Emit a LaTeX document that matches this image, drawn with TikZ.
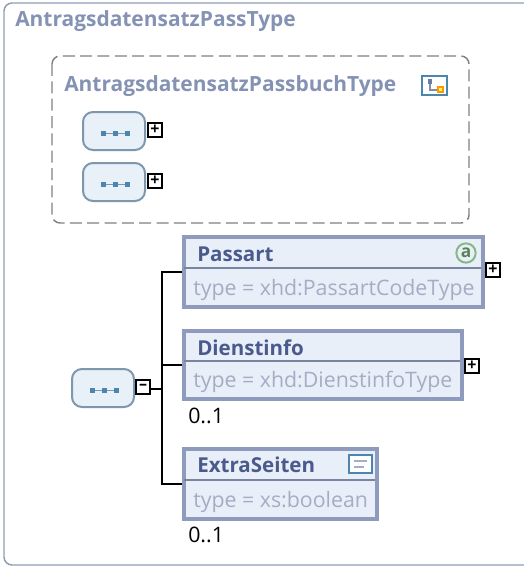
\documentclass[tikz,border=0pt]{standalone}
\usepackage{fontspec}
\setmainfont{Open Sans}
\usepackage{tikz}

\definecolor{framecol}{RGB}{141,157,181}
\definecolor{titlecol}{RGB}{132,146,180}
\definecolor{elemcol}{RGB}{142,155,189}
\definecolor{elemfill}{RGB}{233,239,249}
\definecolor{namecol}{RGB}{74,90,140}
\definecolor{typecol}{RGB}{164,173,196}
\definecolor{seqcol}{RGB}{127,151,174}
\definecolor{seqfill}{RGB}{232,240,248}
\definecolor{dotcol}{RGB}{74,134,176}
\definecolor{attrcol}{RGB}{135,185,135}
\definecolor{attrtext}{RGB}{90,130,90}

\tikzset{
  seqbox/.style={draw=seqcol,fill=seqfill,line width=1.5pt,rounded corners=7.5pt,anchor=north west,inner sep=0pt,minimum width=46.5pt,minimum height=28.5pt},
  togglebox/.style={draw=black,fill=white,line width=1.2pt,anchor=center,inner sep=0pt,minimum width=10.8pt,minimum height=10.8pt,font=\fontsize{12}{12}\bfseries},
  elembox/.style={draw=elemcol,fill=elemfill,line width=3pt,anchor=north west,inner sep=0pt},
  titletext/.style={anchor=base west,inner sep=0pt,text=titlecol,font=\fontsize{15.7}{18}\bfseries},
  nametext/.style={anchor=base west,inner sep=0pt,text=namecol,font=\fontsize{15.4}{18}\bfseries},
  typetext/.style={anchor=base west,inner sep=0pt,text=typecol,font=\fontsize{16}{18}\selectfont},
  occtext/.style={anchor=base west,inner sep=0pt,text=black,font=\fontsize{16}{18}\selectfont},
  sepline/.style={draw=elemcol!85!black,line width=1.5pt},
  branch/.style={draw=black,line width=1.5pt},
  seqdots/.pic={
    \draw [seqcol,line width=0.5pt] (-12,0) -- (12,0);
    \foreach \dx in {-12,0,12}
      \fill [dotcol] (\dx-2.5,-2.5) rectangle (\dx+2.5,2.5);
  }
}

\begin{document}
\begin{tikzpicture}[x=0.75pt,y=0.75pt,yscale=-1,xscale=1]
\useasboundingbox (0,0) rectangle (524,567);

%Outer frame, open on the right
\draw [framecol,line width=1.1pt,rounded corners=6pt] (524,3) -- (4,3) -- (4,565) -- (524,565);
\draw (15,27) node (passtitle) [titletext] {AntragsdatensatzPassType};

%Dashed group
\draw [gray,line width=1.1pt,dash pattern=on 9pt off 4pt,rounded corners=6pt] (52,56) rectangle (469,223);
\draw (64,91) node (buchtitle) [titletext] {AntragsdatensatzPassbuchType};

%Group icon
\draw (421,75) node (grpicon) [draw=dotcol,fill=white,line width=1.2pt,anchor=north west,inner sep=0pt,minimum width=19pt,minimum height=14.5pt] {};
\draw [namecol!70,line width=0.8pt] (430,83) -- (430,90) -- (438,90);
\fill [namecol!80] (428,79) rectangle (432,84);
\draw [orange!80!yellow,fill=yellow!60,line width=0.8pt] (438,87) rectangle (443,92);

%Sequence boxes
\draw (82,111) node (seqa) [seqbox] {};
\draw (82,162) node (seqb) [seqbox] {};
\draw (71,368) node (seqc) [seqbox] {};
\path (115,133) pic {seqdots};
\path (115,184) pic {seqdots};
\path (104,390) pic {seqdots};

%Toggles
\draw (155,130) node (togglea) [togglebox] {+};
\draw (155,181) node (toggleb) [togglebox] {+};
\draw (143,387) node (togglec) [togglebox] {--};
\draw (493,270) node (togglepass) [togglebox] {+};
\draw (472,366) node (toggledienst) [togglebox] {+};

%Elements
\draw (182,235) node (passart) [elembox,minimum width=224.25pt,minimum height=52.5pt] {};
\draw (182,329) node (dienstinfo) [elembox,minimum width=208.5pt,minimum height=51pt] {};
\draw (182,447) node (extraseiten) [elembox,minimum width=144.75pt,minimum height=52.5pt] {};
\draw [sepline] (184,268) -- (481,268);
\draw [sepline] (184,361) -- (460,361);
\draw [sepline] (184,480) -- (375,480);

%Connectors
\coordinate (trunk) at (162,389);
\draw [branch] (togglec.east |- trunk) -- (trunk);
\draw [branch] (passart.west) -| (trunk);
\draw [branch] (dienstinfo.west) -| (trunk);
\draw [branch] (extraseiten.west) -| (trunk);

%Icons
\draw (466,253) node (attricon) [circle,draw=attrcol,fill=elemfill,line width=1.5pt,inner sep=0pt,minimum size=14.5pt,text=attrtext,font=\fontsize{13}{13}\bfseries] {a};
\draw (348,454) node (docicon) [draw=dotcol,fill=white,line width=1.5pt,anchor=north west,inner sep=0pt,minimum width=17pt,minimum height=13.5pt] {};
\draw [typecol,line width=1.2pt] (354,461) -- (367,461);
\draw [typecol,line width=1.2pt] (354,467) -- (364,467);

% Text Node
\draw (197,261) node (passartname) [nametext] {Passart};
% Text Node
\draw (193,295) node (passarttype) [typetext] {type = xhd:PassartCodeType};
% Text Node
\draw (197,355) node (dienstname) [nametext] {Dienstinfo};
% Text Node
\draw (193,387) node (diensttype) [typetext] {type = xhd:DienstinfoType};
% Text Node
\draw (197,472) node (extraname) [nametext] {ExtraSeiten};
% Text Node
\draw (193,507) node (extratype) [typetext] {type = xs:boolean};
% Text Node
\draw (188,423) node (dienstocc) [occtext] {0..1};
% Text Node
\draw (188,542) node (extraocc) [occtext] {0..1};

\end{tikzpicture}
\end{document}
